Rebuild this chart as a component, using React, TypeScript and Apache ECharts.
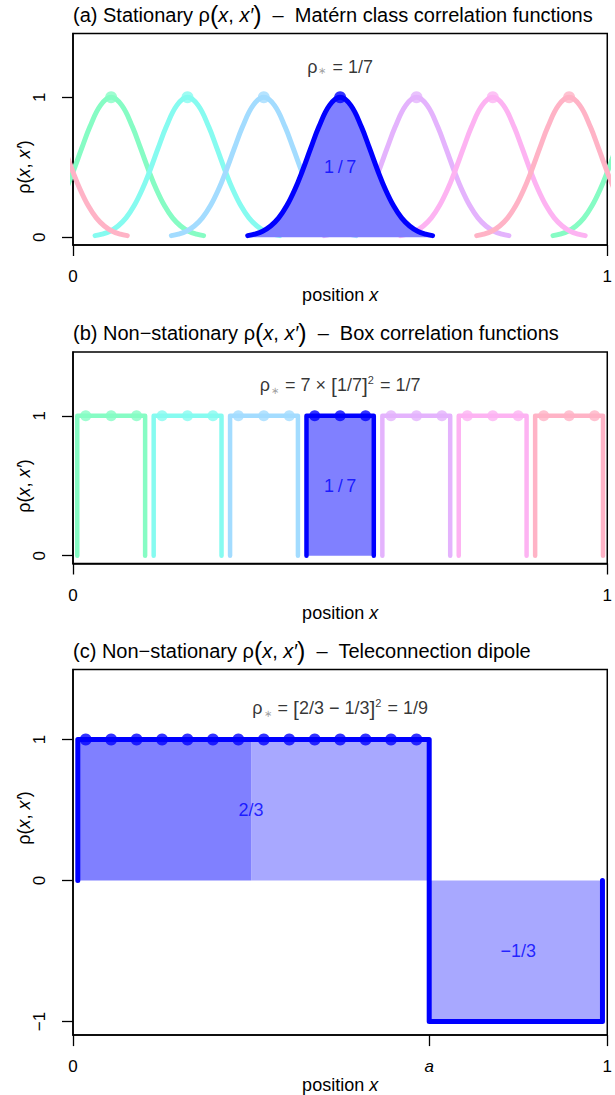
import React, { useEffect, useRef } from "react";
import * as echarts from "echarts";

const FONT = "'Liberation Sans', Arial, Helvetica, sans-serif";

// ---------- data ----------
const groupCenters = [0.0714, 0.2143, 0.3571, 0.5, 0.6429, 0.7857, 0.9286];
const pointPositions = [
  0.0238, 0.0714, 0.119, 0.1667, 0.2143, 0.2619, 0.3095, 0.3571, 0.4048, 0.4524, 0.5,
  0.5476, 0.5952, 0.6429, 0.6905, 0.7381, 0.7857, 0.8333, 0.881, 0.9286, 0.9762,
];
const groupColors = ["#86FCC4", "#86FBF0", "#A3DCFF", "#0000FF", "#E4B3FD", "#FDB3F2", "#FFB3C6"];
const openColors = ["#86FCC4", "#86FBF0", "#A3DCFF", "#A3A8FF", "#E4B3FD", "#FDB3F2", "#FFB3C6"];
const highlightGroup = 3;

// Matérn-type correlation profile: offset from centre -> rho
const maternOffsets = [
  -0.173, -0.16, -0.145, -0.13, -0.115, -0.1, -0.085, -0.0714, -0.055, -0.04, -0.02, 0,
  0.02, 0.04, 0.055, 0.0714, 0.085, 0.1, 0.115, 0.13, 0.145, 0.16, 0.173,
];
const maternRho = [
  0.011, 0.022, 0.043, 0.08, 0.138, 0.224, 0.339, 0.466, 0.636, 0.787, 0.942, 1,
  0.942, 0.787, 0.636, 0.466, 0.339, 0.224, 0.138, 0.08, 0.043, 0.022, 0.011,
];

// box functions of panel (b)
const boxLeft = [0.008, 0.151, 0.294, 0.437, 0.579, 0.722, 0.865];
const boxRight = [0.135, 0.278, 0.421, 0.563, 0.706, 0.849, 0.992];

// teleconnection dipole of panel (c)
const dipoleX = [0.009, 0.009, 0.6667, 0.6667, 0.991, 0.991];
const dipoleY = [0, 1, 1, -1, -1, 0];
const dipolePointCount = 14;
const fillX0 = [0.009, 0.3333, 0.6667];
const fillX1 = [0.3333, 0.6667, 0.993];
const fillVal = [1, 1, -1];
const fillColors = ["#8080FF", "#A8A8FF", "#A8A8FF"];

const xTicksAB = [0, 1];
const xTicksC = [0, 0.6667, 1];
const xTickLabelsC = ["0", "{i|a}", "1"];
const yTicksAB = [0, 1];
const yTicksC = [-1, 0, 1];

const yRangeAB = [-0.056, 1.456];
const yRangeC = [-1.096, 1.496];

// ---------- layout ----------
const GRIDS = [
  { left: 73, width: 536, top: 33.5, height: 211.5 },
  { left: 73, width: 536, top: 352, height: 211.5 },
  { left: 73, width: 536, top: 669.5, height: 370.5 },
];

const FS = 18;
const richBase = {
  n: { fontSize: FS, fontFamily: FONT, color: "#000" },
  i: { fontSize: FS, fontFamily: FONT, fontStyle: "italic", color: "#000" },
  k: { fontSize: 21, fontFamily: FONT, color: "#000" },
  t: { fontSize: 20, fontFamily: FONT, color: "#000" },
  ti: { fontSize: 20, fontFamily: FONT, fontStyle: "italic", color: "#000" },
  p: { fontSize: 25, fontFamily: FONT, color: "#000" },
  s: { fontSize: 10, fontFamily: FONT, color: "#888", verticalAlign: "bottom", padding: [7, 1, 0, 1] },
  sup: { fontSize: 11, fontFamily: FONT, color: "#000", verticalAlign: "top", padding: [0, 1, 8, 0] },
  b: { fontSize: FS, fontFamily: FONT, color: "#0000FF" },
};

const T = "\u2009"; // thin space

function textPoint(grid: number, x: number, y: number, text: string, z = 10) {
  return {
    type: "scatter",
    xAxisIndex: grid,
    yAxisIndex: grid,
    data: [[x, y]],
    symbolSize: 0,
    silent: true,
    z,
    label: {
      show: true,
      position: "inside",
      formatter: text,
      rich: richBase,
      fontFamily: FONT,
    },
  };
}

function buildOption() {
  const series: any[] = [];

  // ----- panel (a) -----
  groupCenters.forEach((c, k) => {
    [-1, 0, 1].forEach((shift) => {
      const xs = maternOffsets.map((o) => c + o + shift);
      if (Math.max(...xs) < 0 || Math.min(...xs) > 1) return;
      const hl = k === highlightGroup;
      series.push({
        type: "line",
        xAxisIndex: 0,
        yAxisIndex: 0,
        data: xs.map((x, i) => [x, maternRho[i]]),
        smooth: 0.4,
        symbol: "none",
        clip: true,
        z: hl ? 4 : 2,
        lineStyle: { color: groupColors[k], width: 5, cap: "round", join: "round" },
        areaStyle: hl ? { color: "#8080FF", opacity: 1 } : undefined,
      });
    });
  });
  pointPositions.forEach((x, i) => {
    const k = Math.floor(i / 3);
    const centre = i % 3 === 1;
    series.push({
      type: "scatter",
      xAxisIndex: 0,
      yAxisIndex: 0,
      data: [[x, 1]],
      symbol: centre ? "circle" : "emptyCircle",
      symbolSize: centre ? 12 : 10,
      z: 6,
      itemStyle: centre
        ? { color: groupColors[k] }
        : { color: "#fff", borderColor: openColors[k], borderWidth: 1.4 },
    });
  });
  series.push(textPoint(0, 0.5, 1.22, "{n|ρ}{s|∗}{n| = 1/7}"));
  series.push(textPoint(0, 0.5, 0.5, `{b|1${T}/${T}7}`));

  // ----- panel (b) -----
  boxLeft.forEach((l, k) => {
    const r = boxRight[k];
    const hl = k === highlightGroup;
    series.push({
      type: "line",
      xAxisIndex: 1,
      yAxisIndex: 1,
      data: [[l, 0], [l, 1], [r, 1], [r, 0]],
      symbol: "none",
      z: hl ? 4 : 2,
      lineStyle: { color: groupColors[k], width: 4.5, cap: "round", join: "round" },
      areaStyle: hl ? { color: "#8080FF", opacity: 1 } : undefined,
    });
  });
  pointPositions.forEach((x, i) => {
    const k = Math.floor(i / 3);
    series.push({
      type: "scatter",
      xAxisIndex: 1,
      yAxisIndex: 1,
      data: [[x, 1]],
      symbol: "circle",
      symbolSize: 11,
      z: 6,
      itemStyle: { color: groupColors[k] },
    });
  });
  series.push(textPoint(1, 0.5, 1.22, "{n|ρ}{s|∗}{n| = 7 × }{k|[}{n|1/7}{k|]}{sup|2}{n| = 1/7}"));
  series.push(textPoint(1, 0.5, 0.5, `{b|1${T}/${T}7}`));

  // ----- panel (c) -----
  fillX0.forEach((x0, j) => {
    series.push({
      type: "line",
      xAxisIndex: 2,
      yAxisIndex: 2,
      data: [[x0, fillVal[j]], [fillX1[j], fillVal[j]]],
      symbol: "none",
      z: 1,
      lineStyle: { width: 0, opacity: 0 },
      areaStyle: { color: fillColors[j], opacity: 1 },
    });
  });
  series.push({
    type: "line",
    xAxisIndex: 2,
    yAxisIndex: 2,
    data: dipoleX.map((x, i) => [x, dipoleY[i]]),
    symbol: "none",
    z: 4,
    lineStyle: { color: "#0000FF", width: 5, cap: "round", join: "round" },
  });
  series.push({
    type: "scatter",
    xAxisIndex: 2,
    yAxisIndex: 2,
    data: pointPositions.slice(0, dipolePointCount).map((x) => [x, 1]),
    symbol: "circle",
    symbolSize: 12,
    z: 6,
    itemStyle: { color: "#0000FF" },
  });
  series.push(textPoint(2, 0.5, 1.22, "{n|ρ}{s|∗}{n| = }{k|[}{n|2/3 − 1/3}{k|]}{sup|2}{n| = 1/9}"));
  series.push(textPoint(2, 0.3333, 0.5, "{b|2/3}"));
  series.push(textPoint(2, 0.8333, -0.5, "{b|−1/3}"));

  const xAxis = GRIDS.map((_, g) => ({
    type: "value",
    gridIndex: g,
    min: 0,
    max: 1,
    splitLine: { show: false },
    axisLine: { show: true, onZero: false, lineStyle: { color: "#000", width: 1.5 } },
    axisTick: {
      show: true,
      inside: false,
      length: 11,
      customValues: g === 2 ? xTicksC : xTicksAB,
      lineStyle: { color: "#000", width: 1.3 },
    },
    axisLabel: {
      show: true,
      customValues: g === 2 ? xTicksC : xTicksAB,
      formatter: (v: number) => {
        if (g === 2) {
          const idx = xTicksC.findIndex((t) => Math.abs(t - v) < 1e-6);
          return idx >= 0 ? xTickLabelsC[idx] : "";
        }
        return String(v);
      },
      rich: { i: { fontSize: 17, fontFamily: FONT, fontStyle: "italic", color: "#000" } },
      fontSize: 17,
      fontFamily: FONT,
      color: "#000",
      margin: 23,
      showMinLabel: true,
      showMaxLabel: true,
      hideOverlap: false,
    },
    name: "{n|position }{i|x}",
    nameLocation: "middle",
    nameGap: 36,
    nameTextStyle: { rich: richBase, fontFamily: FONT, fontSize: FS },
  }));

  const yAxis = GRIDS.map((_, g) => {
    const rng = g === 2 ? yRangeC : yRangeAB;
    const ticks = g === 2 ? yTicksC : yTicksAB;
    return {
      type: "value",
      gridIndex: g,
      min: rng[0],
      max: rng[1],
      splitLine: { show: false },
      axisLine: { show: true, onZero: false, lineStyle: { color: "#000", width: 1.5 } },
      axisTick: {
        show: true,
        inside: false,
        length: 11,
        customValues: ticks,
        lineStyle: { color: "#000", width: 1.3 },
      },
      axisLabel: {
        show: true,
        customValues: ticks,
        formatter: (v: number) => (v < 0 ? "−" + String(-v) : String(v)),
        rotate: 90,
        fontSize: 17,
        fontFamily: FONT,
        color: "#000",
        margin: 25,
        showMinLabel: true,
        showMaxLabel: true,
        hideOverlap: false,
      },
    };
  });

  const titles = [
    { y: 15, text: "{t|(a) Stationary ρ}{p|(}{ti|x}{t|, }{ti|x′}{p|)}{t|  –  Matérn class correlation functions}" },
    { y: 333, text: "{t|(b) Non−stationary ρ}{p|(}{ti|x}{t|, }{ti|x′}{p|)}{t|  –  Box correlation functions}" },
    { y: 651, text: "{t|(c) Non−stationary ρ}{p|(}{ti|x}{t|, }{ti|x′}{p|)}{t|  –  Teleconnection dipole}" },
  ];
  const ylabY = [167, 486, 818];

  const graphic: any[] = [];
  titles.forEach((t) => {
    graphic.push({
      type: "text",
      x: 73,
      y: t.y,
      style: {
        text: t.text,
        rich: richBase,
        fontFamily: FONT,
        fontSize: 20,
        align: "left",
        verticalAlign: "middle",
      },
    });
  });
  ylabY.forEach((y) => {
    graphic.push({
      type: "text",
      x: 24,
      y,
      rotation: Math.PI / 2,
      style: {
        text: "{n|ρ(}{i|x}{n|, }{i|x′}{n|)}",
        rich: richBase,
        fontFamily: FONT,
        fontSize: FS,
        align: "center",
        verticalAlign: "middle",
      },
    });
  });

  return {
    animation: false,
    backgroundColor: "#fff",
    textStyle: { fontFamily: FONT },
    grid: GRIDS.map((g) => ({
      ...g,
      show: true,
      borderColor: "#000",
      borderWidth: 1.5,
      backgroundColor: "transparent",
      containLabel: false,
    })),
    xAxis,
    yAxis,
    series,
    graphic,
  };
}

export default function App() {
  const ref = useRef<HTMLDivElement>(null);
  useEffect(() => {
    document.body.style.margin = "0";
    if (!ref.current) return;
    const chart = echarts.init(ref.current, undefined, { renderer: "svg" });
    chart.setOption(buildOption() as any);
    return () => chart.dispose();
  }, []);
  return <div ref={ref} style={{ width: 615, height: 1095 }} />;
}
